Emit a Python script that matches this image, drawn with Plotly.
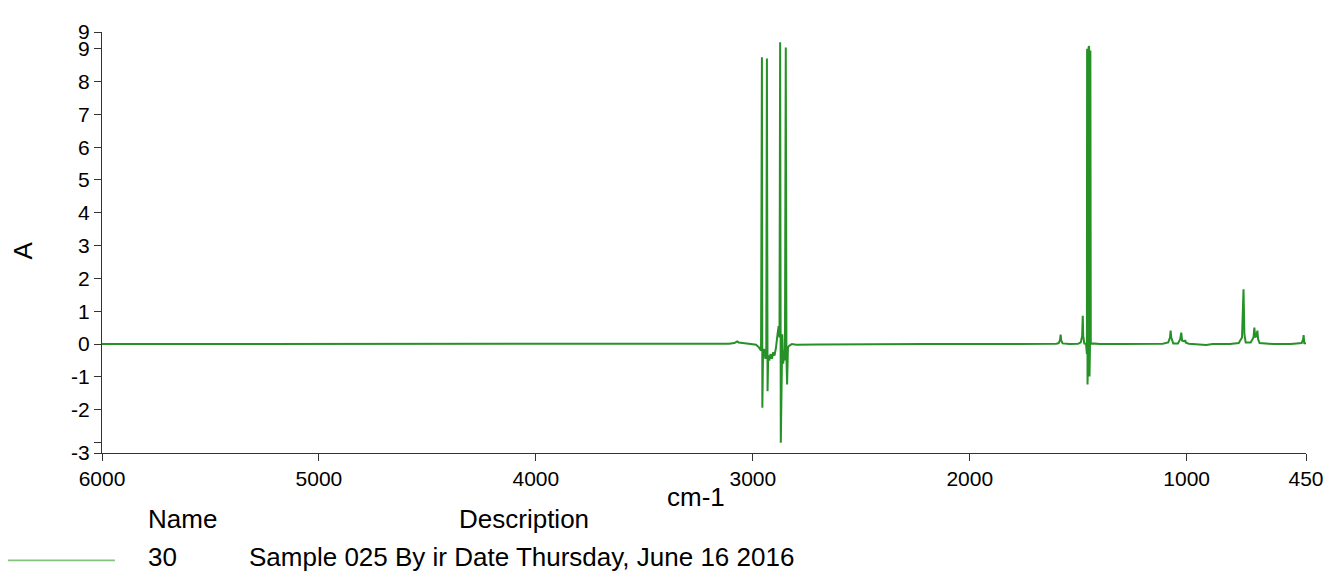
import plotly.graph_objects as go

# ---- data (wavenumber cm-1, absorbance A) ----
baseline_hi_wn = [6000, 5800, 5600, 5400, 5100, 4800, 4500, 4400, 4000, 3800, 3500, 3300, 3200, 3110, 3085, 3072, 3065, 3040, 3010, 2985]
baseline_hi_a = [0.0, 0.0, -0.01, 0.0, 0.0, -0.01, 0.0, 0.0, -0.01, 0.0, 0.01, 0.0, 0.0, 0.01, 0.03, 0.08, 0.05, 0.02, 0.0, -0.02]

ch_wn = [2972, 2962, 2958, 2956, 2953, 2948, 2942, 2938, 2935, 2932, 2929, 2924, 2918, 2912, 2906, 2900,
         2893, 2886, 2881, 2877, 2874, 2871, 2868, 2864, 2860, 2855, 2852, 2848, 2845, 2842, 2838, 2832, 2820]
ch_a = [-0.1, -0.2, 8.74, -1.94, -0.3, -0.15, -0.45, -0.2, 8.70, -1.44, -0.35, -0.5, -0.3, -0.45, -0.25, -0.35,
        -0.1, 0.3, 0.55, 0.2, 9.20, -3.01, -0.3, 0.3, -0.6, -0.2, -0.5, 9.04, -0.4, -1.23, -0.1, -0.05, 0.0]

mid_wn = [2800, 2700, 2500, 2200, 2000, 1800, 1700, 1650, 1620]
mid_a = [-0.02, -0.01, 0.0, 0.0, 0.0, 0.0, 0.01, 0.0, 0.0]

fp_wn = [1600, 1590, 1584, 1581, 1578, 1572, 1540, 1500, 1488, 1482, 1479, 1477, 1472, 1464, 1460, 1459,
         1457, 1455, 1452, 1450, 1448, 1446, 1444, 1442, 1438, 1400, 1300, 1200, 1110, 1085, 1077, 1074,
         1071, 1062, 1040, 1030, 1025, 1021, 1010, 1007, 1003, 990, 950, 910, 880, 800, 760, 745, 738,
         734, 728, 705, 692, 688, 684, 677, 674, 671, 664, 600, 520, 470, 463, 461, 458, 450]
fp_a = [0.01, 0.03, 0.12, 0.29, 0.1, 0.02, 0.0, 0.01, 0.05, 0.25, 0.86, 0.25, 0.02, 0.0, -0.3, 9.0,
        -1.23, -0.3, 9.05, 9.08, -0.99, -0.2, 8.95, 0.0, 0.02, 0.0, 0.0, 0.0, 0.01, 0.05, 0.2, 0.41,
        0.2, 0.02, 0.02, 0.15, 0.35, 0.1, 0.08, 0.12, 0.04, 0.01, 0.0, -0.03, 0.0, 0.0, 0.03, 0.2, 1.67,
        0.3, 0.05, 0.05, 0.2, 0.5, 0.2, 0.3, 0.41, 0.15, 0.03, 0.0, 0.0, 0.03, 0.15, 0.27, 0.03, 0.02]

x_tickvals = [6000, 5000, 4000, 3000, 2000, 1000, 450]
x_ticktext = ["6000", "5000", "4000", "3000", "2000", "1000", "450"]
y_tickvals = [-3.32, -3, -2, -1, 0, 1, 2, 3, 4, 5, 6, 7, 8, 9, 9.51]
y_ticktext = ["-3", "", "-2", "-1", "0", "1", "2", "3", "4", "5", "6", "7", "8", "9", "9"]

legend_name = "30"
legend_desc = "Sample 025 By ir Date Thursday, June 16 2016"

wn = baseline_hi_wn + ch_wn + mid_wn + fp_wn
ab = baseline_hi_a + ch_a + mid_a + fp_a

# ---- layout geometry (reference pixels); the page body adds an 8px margin ----
OFF = 8
W, H = 1336 - OFF, 571 - OFF
L, R, T, B = 102, 1316, 22, 453
PW, PH = R - L, B - T


def px(xp):
    return (xp - L) / PW


def py(yp):
    return 1 - (yp - T) / PH


FONT = "Liberation Sans, Arial, sans-serif"

fig = go.Figure()
fig.add_trace(go.Scatter(x=wn, y=ab, mode="lines",
                         line=dict(color="rgb(38,145,38)", width=2),
                         hoverinfo="skip", showlegend=False))

fig.update_layout(
    width=W, height=H,
    margin=dict(l=L - OFF, r=1336 - R, t=T - OFF, b=571 - B),
    paper_bgcolor="white", plot_bgcolor="white",
    font=dict(family=FONT, color="black"),
    xaxis=dict(range=[6000, 450], tickvals=x_tickvals, ticktext=x_ticktext,
               showgrid=False, zeroline=False, showline=True, linecolor="#333", linewidth=1,
               ticks="outside", ticklen=7, tickcolor="#333", tickfont=dict(size=21, family=FONT)),
    yaxis=dict(range=[-3.32, 9.51], tickvals=y_tickvals, ticktext=y_ticktext,
               showgrid=False, zeroline=False, showline=True, linecolor="#333", linewidth=1,
               ticks="outside", ticklen=7, tickcolor="#333", tickfont=dict(size=21, family=FONT)),
)

ann = [
    dict(text="A", x=px(22), y=py(246), textangle=-90, font=dict(size=26)),
    dict(text="cm-1", x=px(701), y=py(498), font=dict(size=26)),
    dict(text="Name", x=px(146), y=py(521), xanchor="left", font=dict(size=26)),
    dict(text="Description", x=px(460), y=py(521), xanchor="left", font=dict(size=26)),
    dict(text=legend_name, x=px(146), y=py(559), xanchor="left", font=dict(size=26)),
    dict(text=legend_desc, x=px(248), y=py(559), xanchor="left", font=dict(size=26)),
]
for a in ann:
    a.setdefault("xanchor", "center")
    a.update(xref="paper", yref="paper", yanchor="middle", showarrow=False)
    a["font"] = dict(size=a["font"]["size"], family=FONT, color="black")
fig.update_layout(annotations=ann)

fig.add_shape(type="line", xref="paper", yref="paper",
              x0=px(5), x1=px(115), y0=py(563), y1=py(563),
              line=dict(color="rgb(130,195,130)", width=1.8))

fig.write_html("out.html")
